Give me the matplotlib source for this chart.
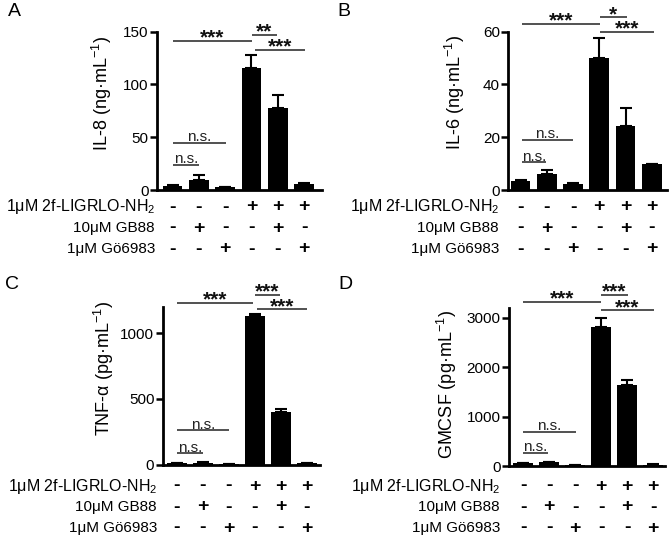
import matplotlib
matplotlib.use("Agg")
import matplotlib.pyplot as plt
from matplotlib.transforms import blended_transform_factory

plt.rcParams['font.family'] = ['Liberation Sans', 'DejaVu Sans']
plt.rcParams['mathtext.fontset'] = 'custom'
plt.rcParams['mathtext.rm'] = 'Liberation Sans'
plt.rcParams['mathtext.it'] = 'Liberation Sans'

# ---- data ----
il8_mean = [4, 9.5, 3, 115.4, 77.6, 5.7]
il8_err = [0.5, 4.5, 0.3, 12.3, 12.4, 0.5]
il6_mean = [3.4, 5.9, 2.3, 49.9, 24.4, 9.8]
il6_err = [0.3, 1.7, 0.2, 7.8, 6.5, 0.2]
tnf_mean = [10, 14, 6, 1130, 402, 8]
tnf_err = [2, 3, 1, 17, 18, 2]
gmcsf_mean = [60, 80, 25, 2825, 1643, 30]
gmcsf_err = [5, 8, 3, 170, 100, 3]

row_labels = ['1\u03bcM 2f-LIGRLO-NH$_{\\mathregular{2}}$', '10\u03bcM GB88', '1\u03bcM G\u00f66983']
row_signs = [['-', '-', '-', '+', '+', '+'],
             ['-', '+', '-', '-', '+', '-'],
             ['-', '-', '+', '-', '-', '+']]

ylabels = ['IL-8 (ng\u00b7mL$^{\\mathregular{-1}}$)', 'IL-6 (ng\u00b7mL$^{\\mathregular{-1}}$)',
           'TNF-\u03b1 (pg\u00b7mL$^{\\mathregular{-1}}$)', 'GMCSF (pg\u00b7mL$^{\\mathregular{-1}}$)']
panel_letters = ['A', 'B', 'C', 'D']
yticks_list = [[0, 50, 100, 150], [0, 20, 40, 60], [0, 500, 1000], [0, 1000, 2000, 3000]]

# brackets: (x1, x2, y, label)
br_il8 = [(0, 3.02, 141, '***'), (3.02, 3.97, 146.6, '**'), (3.14, 5.04, 132.5, '***'),
          (0, 2.03, 44.5, 'n.s.'), (0, 1.0, 23.6, 'n.s.')]
br_il6 = [(0.04, 3.03, 62.8, '***'), (3.03, 4.05, 65.4, '*'), (3.03, 5.09, 60, '***'),
          (0.04, 2.0, 18.9, 'n.s.'), (0.04, 0.97, 10.5, 'n.s.')]
br_tnf = [(0, 2.92, 1229, '***'), (3.0, 3.96, 1289, '***'), (3.08, 5.0, 1180, '***'),
          (0, 2.0, 260, 'n.s.'), (0, 1.0, 86, 'n.s.')]
br_gm = [(0, 3.0, 3330, '***'), (3.0, 4.04, 3470, '***'), (3.0, 5.04, 3150, '***'),
         (0, 2.04, 695, 'n.s.'), (0, 0.96, 263, 'n.s.')]

means = [il8_mean, il6_mean, tnf_mean, gmcsf_mean]
errs = [il8_err, il6_err, tnf_err, gmcsf_err]
brackets = [br_il8, br_il6, br_tnf, br_gm]

# ---- layout (pixels) ----
W, H = 669, 543
rects = [(157, 322, 31.7, 190), (508.3, 666.7, 31.7, 190),
         (162.7, 320, 306.8, 464.5), (509, 665, 308, 466)]
ylims = [(0, 150), (0, 60), (0, 1200), (0, 3200)]
xlims = [(-0.59, 5.68), (-0.47, 5.57), (-0.55, 5.5), (-0.54, 5.46)]
ylabel_pos = [(110, 94), (463, 92.5), (112, 368), (455, 384.5)]
row_y = [[207, 228, 249], [207, 228, 249], [486, 507, 528], [486, 507, 528]]
row_right = [155, 499, 157, 500]
letter_pos = [(8, 3), (337, 3), (5, 276), (338, 276)]

fig = plt.figure(figsize=(W / 100, H / 100), dpi=100)

for i in range(4):
    l, r, t, b = rects[i]
    ax = fig.add_axes([l / W, 1 - b / H, (r - l) / W, (b - t) / H])
    x = list(range(6))
    ax.bar(x, means[i], width=0.75, color='black', zorder=2)
    ax.errorbar(x, means[i], yerr=[[0] * 6, errs[i]], fmt='none', ecolor='black',
                elinewidth=1.5, capsize=4.5, capthick=1.5, zorder=1)
    ax.set_xlim(*xlims[i])
    ax.set_ylim(*ylims[i])
    ax.set_yticks(yticks_list[i])
    ax.set_xticks([])
    for s in ['top', 'right']:
        ax.spines[s].set_visible(False)
    for s in ['left', 'bottom']:
        ax.spines[s].set_linewidth(2.0)
    ax.tick_params(axis='y', length=5, width=1.8, labelsize=11, pad=1)
    ax.set_ylabel(ylabels[i], fontsize=13)
    bx, cy = ylabel_pos[i]
    ax.yaxis.set_label_coords((bx + 4 - l) / (r - l), (b - cy) / (b - t))

    for (x1, x2, yb, lab) in brackets[i]:
        ax.plot([x1, x2], [yb, yb], color='#333333', lw=1.2, clip_on=False,
                solid_capstyle='butt')
        if lab.startswith('*'):
            ax.annotate(lab, xy=((x1 + x2) / 2, yb), xytext=(0, -1.8),
                        textcoords='offset points', ha='center', va='baseline',
                        fontsize=15, fontweight='bold', color='#111111',
                        annotation_clip=False)
        else:
            ax.annotate(lab, xy=((x1 + x2) / 2, yb), xytext=(0, 1.2),
                        textcoords='offset points', ha='center', va='baseline',
                        fontsize=11, color='#222222', annotation_clip=False)

    tr = blended_transform_factory(ax.transData, fig.transFigure)
    for k in range(3):
        yy = 1 - row_y[i][k] / H
        fig.text(row_right[i] / W, yy, row_labels[k], ha='right', va='center',
                 fontsize=11.5 if k == 0 else 11)
        for j in range(6):
            ax.text(j, yy, row_signs[k][j], transform=tr, ha='center',
                    va='center', fontsize=14, fontweight='bold')

    lx, ly = letter_pos[i]
    fig.text(lx / W, 1 - ly / H, panel_letters[i], ha='left', va='top', fontsize=14)

fig.savefig('out.png', dpi=100)
